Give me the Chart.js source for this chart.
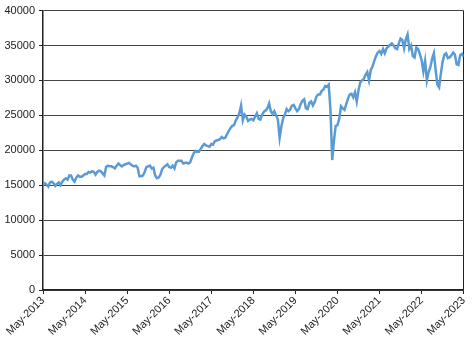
<!DOCTYPE html>
<html>
<head>
<meta charset="utf-8">
<script src="https://cdn.jsdelivr.net/npm/chart.js@4.4.1/dist/chart.umd.min.js"></script>
<style>
  html, body { margin: 0; padding: 0; background: #fff; }
  #wrap { width: 473px; height: 342px; }
</style>
</head>
<body>
<div id="wrap"><canvas id="chart"></canvas></div>
<script>
// --- DATA (two readings per month, May 2013 -> May 2023) ---
const tickLabels = ["May-2013", "May-2014", "May-2015", "May-2016", "May-2017", "May-2018",
                    "May-2019", "May-2020", "May-2021", "May-2022", "May-2023"];

const yTicks = [0, 5000, 10000, 15000, 20000, 25000, 30000, 35000, 40000];

const values2013 = [15000, 15300, 15100, 14800, 15400, 15500, 15300, 14900, 15200, 15400,
                    15000, 15500, 15800, 16000, 15800, 16400];
const values2014 = [16400, 15800, 15500, 16100, 16400, 16200, 16200, 16400, 16600, 16600, 16900, 16800,
                    17000, 16900, 16500, 16900, 17100, 17000, 16700, 16400, 17600, 17800, 17700, 17700];
const values2015 = [17600, 17400, 17800, 18100, 17900, 17700, 17900, 18000, 18100, 18200, 18000, 17800,
                    17700, 17800, 17500, 16300, 16300, 16400, 16900, 17600, 17700, 17800, 17400, 17500];
const values2016 = [16400, 16000, 16100, 16500, 17300, 17600, 17800, 18000, 17600, 17500, 17800, 17400,
                    18300, 18500, 18500, 18500, 18100, 18200, 18200, 18100, 18300, 19000, 19600, 19900];
const values2017 = [19800, 19800, 20200, 20600, 20900, 20700, 20600, 20500, 20900, 20800, 21300, 21400,
                    21500, 21600, 21900, 21700, 21800, 22300, 22800, 23200, 23500, 23600, 24300, 24700];
const values2018 = [25300, 26400, 24300, 25100, 24800, 24200, 24400, 24500, 24300, 24800, 25300, 24500,
                    24400, 25100, 25500, 25700, 26000, 26700, 25600, 25200, 25600, 25000, 24400, 21800];
const values2019 = [23400, 24600, 25100, 25900, 25600, 25800, 26400, 26500, 26000, 25600, 25900, 26600,
                    27100, 27300, 26000, 25900, 26800, 27000, 26400, 26900, 27700, 28000, 28000, 28500];
const values2020 = [28700, 29200, 29100, 29400, 25800, 18600, 21400, 23500, 23600, 24500, 26300, 26000,
                    25800, 26600, 27400, 28000, 28100, 27600, 28300, 27000, 28600, 29700, 30000, 30200];
const values2021 = [30800, 31200, 30000, 31500, 32000, 32800, 33500, 34000, 34200, 33800, 34500, 33900,
                    34600, 34800, 35100, 35300, 35000, 34600, 34500, 35300, 36000, 35800, 34600, 35900];
const values2022 = [36600, 34500, 35000, 33500, 33300, 34700, 34500, 33800, 32900, 31300, 32800, 30000,
                    31200, 31900, 33100, 33900, 31500, 29400, 29000, 31000, 32700, 33700, 33900, 33200];
const values2023 = [33300, 33600, 34000, 33700, 32300, 32200, 33600, 33800, 33400];

const values = [].concat(values2013, values2014, values2015, values2016, values2017,
                         values2018, values2019, values2020, values2021, values2022, values2023);

const points = values.map((v, i) => ({ x: i / 24, y: v }));

const tickFont = { family: "'Liberation Sans', Arial, sans-serif", size: 11 };
const lastTick = tickLabels.length - 1;

new Chart(document.getElementById("chart"), {
    type: "line",
    data: {
        datasets: [{
            data: points,
            borderColor: "#5b9bd5",
            borderWidth: 2.5,
            pointRadius: 0,
            tension: 0,
            fill: false
        }]
    },
    options: {
        responsive: true,
        maintainAspectRatio: false,
        animation: false,
        layout: { padding: { top: 9, right: 9, left: 0, bottom: 0 } },
        plugins: { legend: { display: false }, tooltip: { enabled: false } },
        scales: {
            x: {
                type: "linear",
                min: 0,
                max: lastTick,
                afterFit: s => { s.height = 52; },
                afterBuildTicks: s => { s.ticks = tickLabels.map((_, i) => ({ value: i })); },
                ticks: {
                    callback: v => tickLabels[v],
                    minRotation: 45,
                    maxRotation: 45,
                    padding: 0,
                    color: "#222",
                    font: tickFont
                },
                grid: {
                    color: c => c.index === lastTick ? "#222" : "rgba(0,0,0,0)",
                    tickColor: "#222",
                    tickLength: 4,
                    lineWidth: 1
                },
                border: { color: "#222", width: 1.5 }
            },
            y: {
                min: 0,
                max: 40000,
                afterFit: s => { s.width = 43; },
                afterBuildTicks: s => { s.ticks = yTicks.map(v => ({ value: v })); },
                ticks: {
                    callback: v => String(v),
                    padding: 4,
                    color: "#222",
                    font: tickFont
                },
                grid: {
                    color: "#444",
                    tickColor: "#222",
                    tickLength: 4,
                    lineWidth: 1
                },
                border: { color: "#222", width: 1.5 }
            }
        }
    }
});
</script>
</body>
</html>
